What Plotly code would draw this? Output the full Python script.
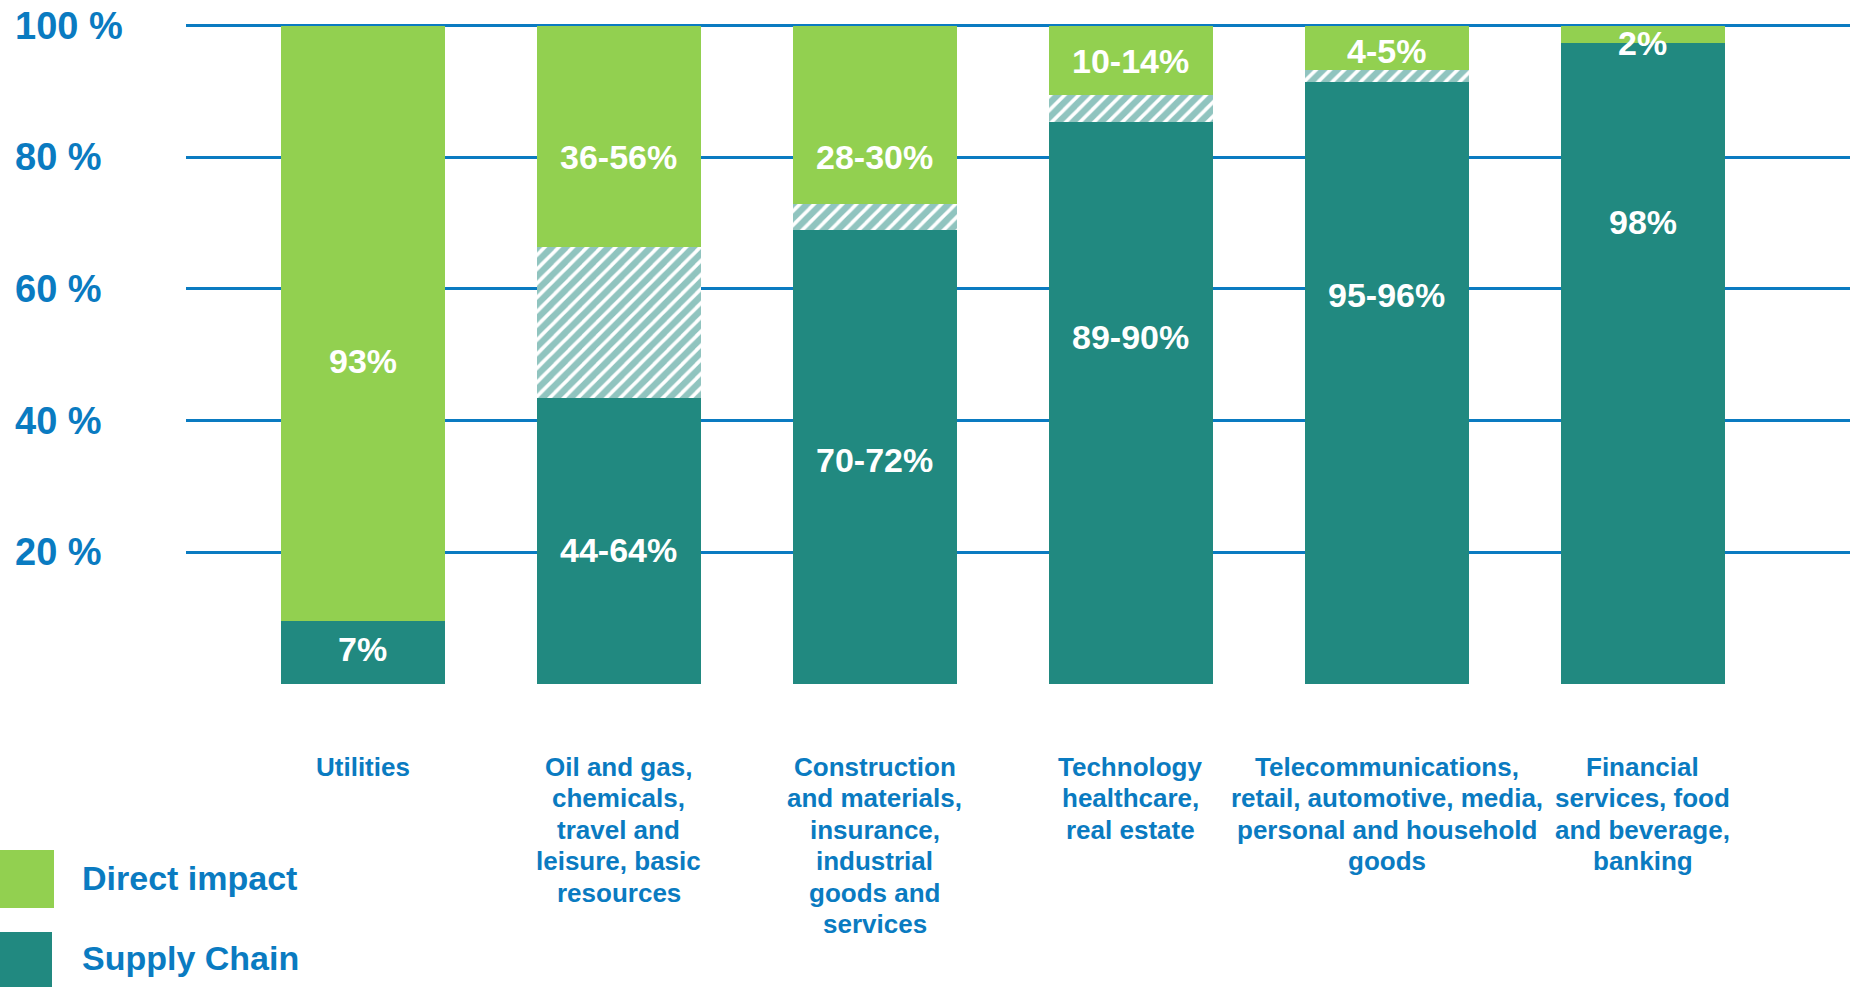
import plotly.graph_objects as go

# ---------------- data ----------------
categories = [
    "Utilities",
    "Oil and gas,<br>chemicals,<br>travel and<br>leisure, basic<br>resources",
    "Construction<br>and materials,<br>insurance,<br>industrial<br>goods and<br>services",
    "Technology<br>healthcare,<br>real estate",
    "Telecommunications,<br>retail, automotive, media,<br>personal and household<br>goods",
    "Financial<br>services, food<br>and beverage,<br>banking",
]
# supply chain share as drawn: solid part (low end) and top of hatched range (high end)
supply_low = [9.6, 43.5, 69.0, 85.4, 91.4, 97.3]
supply_high = [9.6, 66.4, 72.9, 89.5, 93.3, 97.3]
total = [100, 100, 100, 100, 100, 100]

direct_labels = ["93%", "36-56%", "28-30%", "10-14%", "4-5%", "2%"]
supply_labels = ["7%", "44-64%", "70-72%", "89-90%", "95-96%", "98%"]
direct_label_y = [49.1, 80.1, 80.1, 94.6, 96.2, 97.4]
supply_label_y = [5.3, 20.4, 34.0, 52.7, 59.1, 70.2]

y_ticks = [20, 40, 60, 80, 100]
legend_names = ["Direct impact", "Supply Chain"]

# ---------------- style ----------------
GREEN = "#92D050"
TEAL = "#218980"
BLUE = "#0A7BC1"
FONT = "Arial, Liberation Sans, sans-serif"

W, H = 1850, 987
ML, MR, MT, MB = 186, 0, 19, 303
PW, PH = W - ML - MR, H - MT - MB


def px_x(px):
    return (px - ML) / PW


def px_y(py):
    return (H - MB - py) / PH


hatch = [h - l for h, l in zip(supply_high, supply_low)]
direct = [t - h for t, h in zip(total, supply_high)]

fig = go.Figure()
fig.add_trace(go.Bar(x=categories, y=supply_low, width=0.64, name="Supply Chain",
                     marker=dict(color=TEAL, line=dict(width=0))))
fig.add_trace(go.Bar(x=categories, y=hatch, width=0.64, name="range",
                     marker=dict(color="white", line=dict(width=0),
                                 pattern=dict(shape="/", fgcolor=TEAL, bgcolor="white",
                                              size=10, solidity=0.65))))
fig.add_trace(go.Bar(x=categories, y=direct, width=0.64, name="Direct impact",
                     marker=dict(color=GREEN, line=dict(width=0))))

ann = []
# value labels
for c, t, y in zip(categories, direct_labels, direct_label_y):
    ann.append(dict(x=c, y=y, xref="x", yref="y", text=t, showarrow=False,
                    font=dict(family=FONT, size=34, color="white", weight="bold")))
for c, t, y in zip(categories, supply_labels, supply_label_y):
    ann.append(dict(x=c, y=y, xref="x", yref="y", text=t, showarrow=False,
                    font=dict(family=FONT, size=34, color="white", weight="bold")))

# category labels, one annotation per line
for c in categories:
    for i, line in enumerate(c.split("<br>")):
        ann.append(dict(x=c, y=0, xref="x", yref="paper", text=line, showarrow=False,
                        yanchor="middle", yshift=-(83 + 31.4 * i),
                        font=dict(family=FONT, size=26, color=BLUE, weight="bold")))

# y tick labels (left aligned)
for v in y_ticks:
    ann.append(dict(x=px_x(13), y=v, xref="paper", yref="y", text=f"{v} %",
                    showarrow=False, xanchor="left", yanchor="middle",
                    font=dict(family=FONT, size=38, color=BLUE, weight="bold")))

# legend
shapes = []
legend_colors = [GREEN, TEAL]
legend_boxes = [(0, 850, 54, 908), (0, 932, 52, 990)]
legend_text_y = [878, 958]
for name, col, (x0, y0, x1, y1), ty in zip(legend_names, legend_colors, legend_boxes, legend_text_y):
    shapes.append(dict(type="rect", xref="paper", yref="paper",
                       x0=px_x(x0), x1=px_x(x1), y0=px_y(y1), y1=px_y(y0),
                       fillcolor=col, line=dict(width=0)))
    ann.append(dict(x=px_x(80), y=px_y(ty), xref="paper", yref="paper", text=name,
                    showarrow=False, xanchor="left", yanchor="middle",
                    font=dict(family=FONT, size=34, color=BLUE, weight="bold")))

fig.update_layout(
    width=W, height=H,
    margin=dict(l=ML, r=MR, t=MT, b=MB, pad=0),
    barmode="stack",
    showlegend=False,
    paper_bgcolor="white", plot_bgcolor="white",
    annotations=ann, shapes=shapes,
    xaxis=dict(type="category", range=[-0.69, 5.81], showticklabels=False,
               showgrid=False, zeroline=False, showline=False, ticks=""),
    yaxis=dict(range=[0, 101], tickvals=y_ticks, showticklabels=False,
               showgrid=True, gridcolor=BLUE, gridwidth=3, zeroline=False,
               showline=False, ticks=""),
)

fig.write_html("out.html", config={"displayModeBar": False},
               post_script="document.body.style.margin='0';document.body.style.overflow='hidden';")
